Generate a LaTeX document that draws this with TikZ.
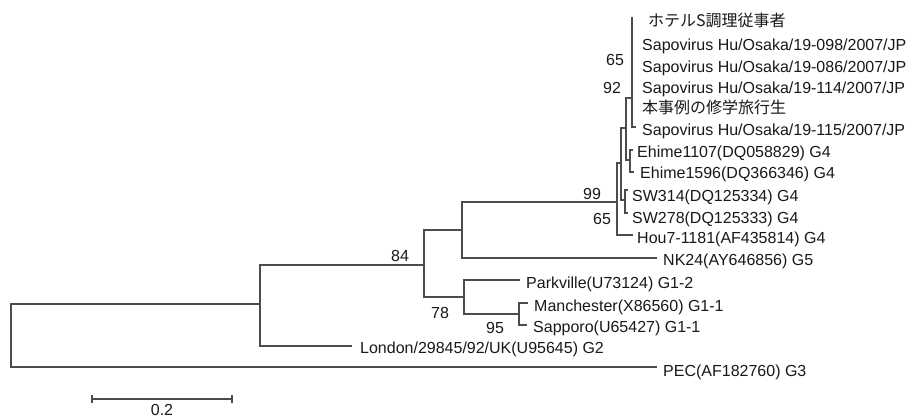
\documentclass[tikz,border=0pt]{standalone}
\usepackage{fontspec}
\setmainfont{Liberation Sans}
\newfontfamily\jpfont{Noto Sans CJK JP}
\begin{document}
\begin{tikzpicture}[x=1pt,y=-1pt,
  br/.style={draw=black!70, line width=2.2pt},
  leaf/.style={anchor=base west, inner sep=0pt, font=\fontsize{16}{19}\selectfont, text=black!90},
  boot/.style={anchor=center, inner sep=0pt, font=\fontsize{16}{19}\selectfont, text=black!90}]
\useasboundingbox[fill=white] (0,0) rectangle (908,419);
% internal nodes
\coordinate (R) at (11,335);
\coordinate (N260) at (260,304);
\coordinate (N424) at (424,265);
\coordinate (N462) at (462,230);
\coordinate (Nlow) at (464,297);
\coordinate (N519) at (519,314);
\coordinate (N617) at (617,202);
\coordinate (N621) at (621,163);
\coordinate (NSW) at (625,200);
\coordinate (N626) at (626,128);
\coordinate (NE) at (630,160);
\coordinate (NA) at (632,98);
% leaf tips
\coordinate (tPEC) at (657,367);
\coordinate (tLon) at (352,346);
\coordinate (tNK) at (657,258);
\coordinate (tPark) at (520,280);
\coordinate (tMan) at (528,303);
\coordinate (tSap) at (527,325);
\coordinate (tHou) at (633,235);
\coordinate (tSW1) at (628,190);
\coordinate (tSW2) at (628,213);
\coordinate (tE1) at (633,150);
\coordinate (tE2) at (634,172);
\coordinate (tTop) at (632,17);
\coordinate (t115) at (636,127);
% branches
\draw[br] (R) |- (N260);
\draw[br] (R) |- (tPEC);
\draw[br] (N260) |- (N424);
\draw[br] (N260) |- (tLon);
\draw[br] (N424) |- (N462);
\draw[br] (N424) |- (Nlow);
\draw[br] (N462) |- (N617);
\draw[br] (N462) |- (tNK);
\draw[br] (Nlow) |- (tPark);
\draw[br] (Nlow) |- (N519);
\draw[br] (N519) |- (tMan);
\draw[br] (N519) |- (tSap);
\draw[br] (N617) |- (N621);
\draw[br] (N617) |- (tHou);
\draw[br] (N621) |- (N626);
\draw[br] (N621) |- (NSW);
\draw[br] (NSW) |- (tSW1);
\draw[br] (NSW) |- (tSW2);
\draw[br] (N626) |- (NA);
\draw[br] (N626) |- (NE);
\draw[br] (NE) |- (tE1);
\draw[br] (NE) |- (tE2);
\draw[br] (NA) -- (tTop);
\draw[br] (NA) |- (t115);
% leaf labels
\node[leaf] (l1) at (648,27) {\jpfont ホテルS調理従事者};
\node[leaf] (l2) at (642,51) {Sapovirus Hu/Osaka/19-098/2007/JP};
\node[leaf] (l3) at (642,73) {Sapovirus Hu/Osaka/19-086/2007/JP};
\node[leaf] (l4) at (642,94) {Sapovirus Hu/Osaka/19-114/2007/JP};
\node[leaf] (l5) at (642,114) {\jpfont 本事例の修学旅行生};
\node[leaf] (l6) at (642,136) {Sapovirus Hu/Osaka/19-115/2007/JP};
\node[leaf] (l7) at (637,158) {Ehime1107(DQ058829) G4};
\node[leaf] (l8) at (640,179) {Ehime1596(DQ366346) G4};
\node[leaf] (l9) at (632,202) {SW314(DQ125334) G4};
\node[leaf] (l10) at (632,224) {SW278(DQ125333) G4};
\node[leaf] (l11) at (637,244) {Hou7-1181(AF435814) G4};
\node[leaf] (l12) at (663,266) {NK24(AY646856) G5};
\node[leaf] (l13) at (526,289) {Parkville(U73124) G1-2};
\node[leaf] (l14) at (534,312) {Manchester(X86560) G1-1};
\node[leaf] (l15) at (533,333) {Sapporo(U65427) G1-1};
\node[leaf] (l16) at (360,354) {London/29845/92/UK(U95645) G2};
\node[leaf] (l17) at (663,377) {PEC(AF182760) G3};
% bootstrap values
\node[boot] (b1) at (615,60) {65};
\node[boot] (b2) at (612,88) {92};
\node[boot] (b3) at (592,194) {99};
\node[boot] (b4) at (602,219) {65};
\node[boot] (b5) at (400,256) {84};
\node[boot] (b6) at (440,313) {78};
\node[boot] (b7) at (495,328) {95};
% scale bar
\coordinate (sbL) at (92,399);
\coordinate (sbR) at (232,399);
\draw[br] (sbL) -- (sbR);
\draw[br] ([yshift=-4]sbL) -- ([yshift=4]sbL);
\draw[br] ([yshift=-4]sbR) -- ([yshift=4]sbR);
\node[boot] (sbl) at (162,410) {0.2};
\end{tikzpicture}
\end{document}
